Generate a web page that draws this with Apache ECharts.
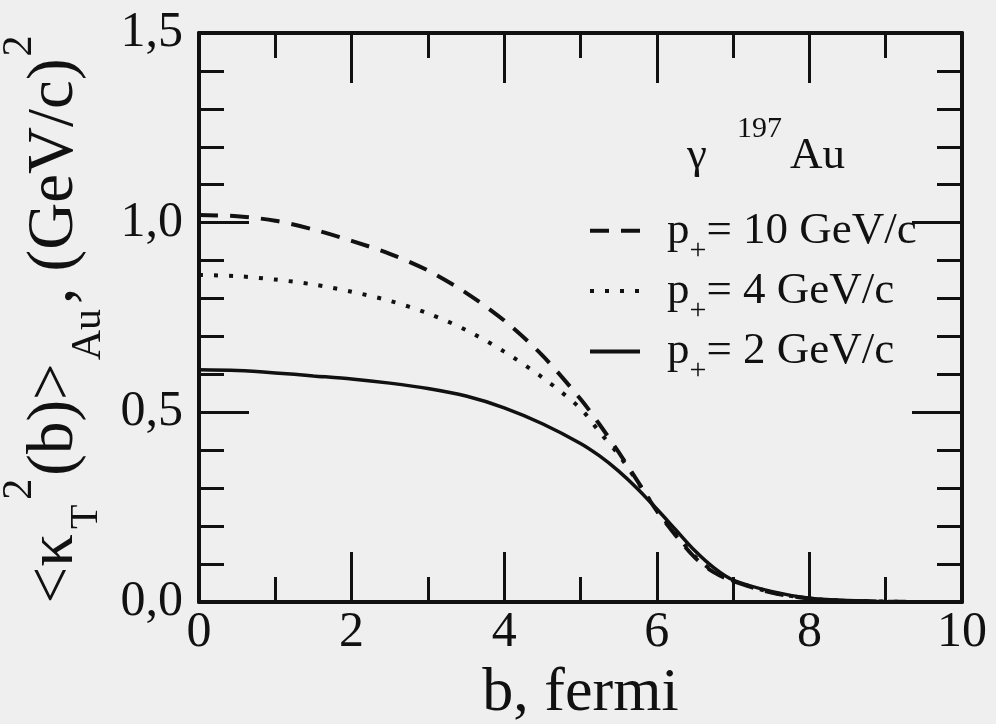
<!DOCTYPE html>
<html>
<head>
<meta charset="utf-8">
<script src="https://cdn.jsdelivr.net/npm/echarts@6/dist/echarts.min.js"></script>
<style>
  html, body { margin: 0; padding: 0; background: #efefef; }
  #chart { width: 996px; height: 724px; }
</style>
</head>
<body>
<div id="chart"></div>
<script>
// Impact parameter b (fermi)
const bValues = [0, 0.5, 1, 1.5, 2, 2.5, 3, 3.5, 4, 4.5, 5, 5.25, 5.5, 5.75, 6, 6.25, 6.5, 6.75, 7, 7.5, 8, 8.5, 9, 9.5, 10];

// <kT^2(b)>_Au in (GeV/c)^2 for three values of p+
const kt2P10 = [1.020, 1.017, 1.005, 0.982, 0.952, 0.918, 0.874, 0.815, 0.742, 0.650, 0.535, 0.468, 0.395, 0.318, 0.240, 0.175, 0.117, 0.078, 0.055, 0.025, 0.009, 0.003, 0.001, 0.000, 0.000];
const kt2P4  = [0.862, 0.859, 0.850, 0.837, 0.818, 0.794, 0.761, 0.717, 0.660, 0.592, 0.510, 0.448, 0.388, 0.316, 0.242, 0.180, 0.120, 0.080, 0.056, 0.026, 0.009, 0.003, 0.001, 0.000, 0.000];
const kt2P2  = [0.612, 0.610, 0.604, 0.596, 0.588, 0.577, 0.563, 0.543, 0.512, 0.470, 0.418, 0.385, 0.345, 0.298, 0.245, 0.190, 0.135, 0.090, 0.058, 0.028, 0.010, 0.004, 0.001, 0.000, 0.000];

const seriesNames = ['p10', 'p4', 'p2'];
const legendMomenta = { p10: '10', p4: '4', p2: '2' };

const xTicks = { min: 0, max: 10, interval: 2 };
const yTicks = { min: 0, max: 1.5, interval: 0.5 };

const SERIF = "'Liberation Serif', 'DejaVu Serif', 'Times New Roman', serif";
const INK = '#111';

function pairs(ys) { return bValues.map((b, i) => [b, ys[i]]); }

const axisLine = { show: true, onZero: false, lineStyle: { color: INK, width: 4 } };
const axisTick = { show: true, inside: true, length: 50, lineStyle: { color: INK, width: 3 } };
const minorTickStyle = { color: INK, width: 3 };

function serifRich(size, padding) {
  const s = { fontFamily: SERIF, fontSize: size, fontWeight: 'normal', color: INK };
  if (padding) s.padding = padding;
  return s;
}

const chart = echarts.init(document.getElementById('chart'), null, { renderer: 'canvas' });

chart.setOption({
  backgroundColor: '#efefef',
  animation: false,
  grid: { left: 199, right: 34, top: 33, bottom: 122, containLabel: false, outerBoundsMode: 'none' },
  xAxis: [
    {
      type: 'value', position: 'bottom', min: xTicks.min, max: xTicks.max, interval: xTicks.interval,
      axisLine, axisTick,
      minorTick: { show: true, splitNumber: 2, length: 25, lineStyle: minorTickStyle },
      splitLine: { show: false },
      axisLabel: { show: true, margin: 6, color: INK, fontFamily: SERIF, fontSize: 50,
        formatter: v => String(v) },
      name: 'b, fermi', nameLocation: 'middle', nameGap: 58,
      nameTextStyle: { color: INK, fontFamily: SERIF, fontSize: 62, fontWeight: 'normal' }
    },
    {
      type: 'value', position: 'top', min: xTicks.min, max: xTicks.max, interval: xTicks.interval,
      axisLine, axisTick,
      minorTick: { show: true, splitNumber: 2, length: 25, lineStyle: minorTickStyle },
      splitLine: { show: false }, axisLabel: { show: false }
    }
  ],
  yAxis: [
    {
      type: 'value', position: 'left', min: yTicks.min, max: yTicks.max, interval: yTicks.interval,
      axisLine, axisTick,
      minorTick: { show: true, splitNumber: 5, length: 25, lineStyle: minorTickStyle },
      splitLine: { show: false },
      axisLabel: { show: true, margin: 16, color: INK, fontFamily: SERIF, fontSize: 50,
        formatter: v => v.toFixed(1).replace('.', ',') },
      name: '{m|<κ}{sub|T}{sup|2}{m|(b)>}{au|Au}{m|, (GeV/c)}{supEnd|2}',
      nameLocation: 'middle', nameRotate: 90, nameGap: 72,
      nameTextStyle: {
        color: INK, fontFamily: SERIF, fontSize: 65, fontWeight: 'normal',
        rich: {
          m: serifRich(65),
          sub: serifRich(40, [64, 3, 0, 5]),
          au: serifRich(42, [68, 5, 0, 3]),
          sup: serifRich(42, [0, 3, 70, 2]),
          supEnd: serifRich(42, [0, 4, 70, 2])
        }
      }
    },
    {
      type: 'value', position: 'right', min: yTicks.min, max: yTicks.max, interval: yTicks.interval,
      axisLine, axisTick,
      minorTick: { show: true, splitNumber: 5, length: 25, lineStyle: minorTickStyle },
      splitLine: { show: false }, axisLabel: { show: false }
    }
  ],
  legend: {
    orient: 'vertical', left: 588, top: 206, padding: 0,
    itemWidth: 50, itemHeight: 62, itemGap: 0.5,
    data: seriesNames,
    selectedMode: false,
    itemStyle: { opacity: 0 },
    lineStyle: { width: 4, color: INK, opacity: 1 },
    formatter: name => '{p|p}{s|+}{t|= ' + legendMomenta[name] + ' GeV/c}',
    textStyle: {
      color: INK, fontFamily: SERIF, fontSize: 45,
      rich: {
        p: serifRich(45, [0, 0, 0, 22]),
        s: serifRich(30, [40, 0, 0, 0]),
        t: serifRich(45)
      }
    }
  },
  graphic: [
    { type: 'text', x: 687, y: 179, style: { text: 'γ', fill: INK, font: '45px ' + SERIF, verticalAlign: 'bottom' } },
    { type: 'text', x: 737, y: 144, style: { text: '197', fill: INK, font: '30px ' + SERIF, verticalAlign: 'bottom' } },
    { type: 'text', x: 790, y: 179, style: { text: 'Au', fill: INK, font: '45px ' + SERIF, verticalAlign: 'bottom' } }
  ],
  series: [
    {
      name: 'p10', type: 'line', data: pairs(kt2P10), smooth: 0.3, symbol: 'none', color: INK,
      lineStyle: { color: INK, width: 4, type: [19, 12] }
    },
    {
      name: 'p4', type: 'line', data: pairs(kt2P4), smooth: 0.3, symbol: 'none', color: INK,
      lineStyle: { color: INK, width: 4, type: [4, 11] }
    },
    {
      name: 'p2', type: 'line', data: pairs(kt2P2), smooth: 0.3, symbol: 'none', color: INK,
      lineStyle: { color: INK, width: 3.5, type: 'solid' }
    }
  ]
});
</script>
</body>
</html>
